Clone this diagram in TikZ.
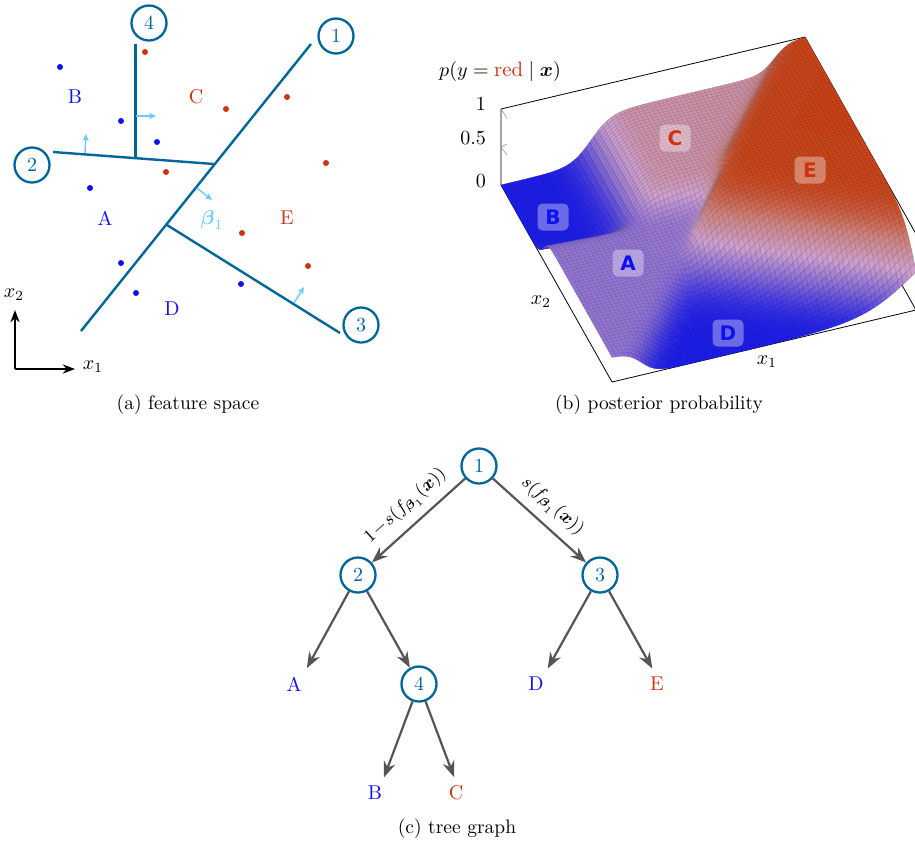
\documentclass[tikz,border=0pt]{standalone}
\usepackage{amsmath}
\usepackage{fontspec}
\usetikzlibrary{arrows.meta}
\newfontfamily\labelfont{DejaVu Sans}
\definecolor{teal}{HTML}{006699}
\definecolor{sky}{HTML}{66CCFF}
\definecolor{blue}{HTML}{1010F0}
\definecolor{red}{HTML}{CC3311}
\definecolor{gray}{HTML}{555555}
% colour ramp of the surface, cm0 (blue) to cm100 (red), ce = its mesh line
\definecolor{ramp0}{RGB}{28,28,235}
\definecolor{ramp1}{RGB}{125,100,215}
\definecolor{ramp2}{RGB}{205,160,205}
\definecolor{ramp3}{RGB}{205,130,125}
\definecolor{ramp4}{RGB}{202,66,22}
\foreach \k in {0,...,100}{
  \pgfmathtruncatemacro\seg{min(3,floor(\k/25))}
  \pgfmathtruncatemacro\nxt{\seg+1}
  \pgfmathtruncatemacro\mix{(\k-25*\seg)*4}
  \xglobal\colorlet{cm\k}{ramp\nxt!\mix!ramp\seg}
  \xglobal\colorlet{ce\k}{cm\k!82!black}
}
\newcommand\keep[2]{\expandafter\xdef\csname #1\endcsname{#2}}
\newcommand\grab[1]{\csname #1\endcsname}
\tikzset{
  every picture/.style={line join=round,>=Stealth},
  split/.style={circle,draw=teal,line width=1.15pt,text=teal,minimum size=17.5pt,inner sep=0pt},
  cut/.style={teal,line width=1.2pt},
  normal/.style={-{Stealth[length=3.6pt,width=3.2pt]},sky,line width=0.7pt},
  edge/.style={->,gray,line width=1.1pt},
  leaf/.style={outer sep=1pt},
  dotblue/.style={circle,fill=blue,inner sep=0pt,minimum size=3pt},
  dotred/.style={circle,fill=red,inner sep=0pt,minimum size=3pt},
  box/.style={line width=0.4pt},
  capt/.style={font=\fontsize{9.75}{12}\selectfont},
  tag/.style={rounded corners=2.5pt,fill=white,fill opacity=0.35,text opacity=1,minimum width=15.5pt,minimum height=13.5pt,inner sep=0pt,font=\labelfont\bfseries},
}
\begin{document}
\begin{tikzpicture}[x=0.5pt,y=-0.5pt,
  declare function={sg(\d)=1/(1+exp(-max(-9,min(9,\d))));}]
\useasboundingbox (0,0) rectangle (915,843);
% feature space
\node[split] (s4) at (149,23) {4};
\node[split] (s1) at (336,36) {1};
\node[split] (s2) at (32,165) {2};
\node[split] (s3) at (361,325) {3};
\coordinate (c1a) at (81,331);
\coordinate (c1b) at (311,44);
\coordinate (c2a) at (53,152);
\coordinate (c2b) at (214,164);
\coordinate (c3a) at (167,225);
\coordinate (c3b) at (340,333);
\coordinate (c4a) at (135.5,44);
\coordinate (c4b) at (135.5,157.5);
\draw[cut] (c1a)--(c1b);
\draw[cut] (c2a)--(c2b);
\draw[cut] (c3a)--(c3b);
\draw[cut] (c4a)--(c4b);
\draw[normal] (197,188)--(212,200);
\draw[normal] (85,153)--(86,134);
\draw[normal] (294,303)--(304,287);
\draw[normal] (136,116)--(156,116);
\node[text=sky] (beta) at (212,220) {$\boldsymbol{\beta}_1$};
\foreach \px/\py in {60/67,121/121,157/142,90/188,121/263,136/293,241/284}
  \node[dotblue] at (\px,\py) {};
\foreach \px/\py in {145/52,226/109,287/97,326/163,166/172,242/233,308/266}
  \node[dotred] at (\px,\py) {};
\node[text=blue] (ra) at (105,218) {A};
\node[text=blue] (rb) at (75,97) {B};
\node[text=red] (rc) at (196,97) {C};
\node[text=blue] (rd) at (172,309) {D};
\node[text=red] (re) at (287,218) {E};
\coordinate (o) at (15,369);
\coordinate (ox) at (75,369);
\coordinate (oy) at (15,310);
\draw[->,line width=0.7pt] (o)--(ox);
\draw[->,line width=0.7pt] (o)--(oy);
\node (xa) at (93,367) {$x_1$};
\node (xb) at (14,295) {$x_2$};
\node[capt] (capa) at (188,405) {(a) feature space};
% posterior surface
\draw[box] (501,185)--(501,109)--(805,37)--(916,234);
\draw[box] (501,185)--(612,382)--(916,310)--(805,113);
\draw[gray!70,line width=0.25pt] (507,144)--(501,147)--(507,155);
\draw[gray!70,line width=0.25pt] (507,118)--(501,109);
\foreach \i in {72,71,...,0}{
  \pgfmathsetmacro\ux{\i/72}
  \pgfmathsetmacro\fx{46+302*\ux}
  \pgfmathsetmacro\sfor{sg(0.1*(\fx-135.5))}
  \foreach \j in {72,71,...,0}{
    \pgfmathsetmacro\vy{\j/72}
    \pgfmathsetmacro\fy{338-302*\vy}
    \pgfmathsetmacro\sone{sg(0.18*(0.78*(\fx-81)+0.625*(\fy-331)))}
    \pgfmathsetmacro\stwo{sg(0.16*(0.074*(\fx-53)-0.997*(\fy-152)))}
    \pgfmathsetmacro\sthr{sg(0.075*(0.53*(\fx-167)-0.848*(\fy-225)))}
    \pgfmathsetmacro\zv{\sone*\sthr+(1-\sone)*(\stwo*\sfor*0.62+(1-\stwo)*0.33)}
    \pgfmathsetmacro\xv{612+304*\ux-111*\vy}
    \pgfmathsetmacro\yv{382-72*\ux-197*\vy-76*\zv}
    \ifnum\i<72 \ifnum\j<72
      \pgfmathtruncatemacro\k{(\zv+\grab{zz\j}+\oldz+\grab{zz\the\numexpr\j+1\relax})*25}
      \filldraw[fill=cm\k,draw=ce\k,line width=0.18pt]
        (\xv,\yv)--(\grab{xx\j},\grab{yy\j})--(\oldx,\oldy)
        --(\grab{xx\the\numexpr\j+1\relax},\grab{yy\the\numexpr\j+1\relax})--cycle;
    \fi\fi
    \ifnum\i<72
      \xdef\oldx{\grab{xx\j}}\xdef\oldy{\grab{yy\j}}\xdef\oldz{\grab{zz\j}}
    \fi
    \keep{xx\j}{\xv}\keep{yy\j}{\yv}\keep{zz\j}{\zv}
  }
}
\node[tag,text=blue] (tb) at (553,217) {B};
\node[tag,text=blue] (ta) at (628,263) {A};
\node[tag,text=blue] (td) at (728,333) {D};
\node[tag,text=red] (tc) at (675,138) {C};
\node[tag,text=red] (te) at (810,170) {E};
\node[font=\fontsize{10.4}{12}\selectfont] (zt) at (500,71) {$p(y=\textcolor{red}{\text{red}}\mid\boldsymbol{x})$};
\node[anchor=east] (z1) at (493,104) {$1$};
\node[anchor=east] (z2) at (493,138) {$0.5$};
\node[anchor=east] (z0) at (493,181) {$0$};
\node (xc) at (541,302) {$x_2$};
\node (xd) at (767,362) {$x_1$};
\node[capt] (capb) at (659,405) {(b) posterior probability};
% tree graph
\node[split] (t1) at (479,466) {1};
\node[split] (t2) at (358,575) {2};
\node[split] (t3) at (600,575) {3};
\node[split] (t4) at (419,684) {4};
\node[leaf,text=blue] (la) at (294,684) {A};
\node[leaf,text=blue] (ld) at (536,684) {D};
\node[leaf,text=red] (le) at (657,684) {E};
\node[leaf,text=blue] (lb) at (375,793) {B};
\node[leaf,text=red] (lc) at (456,793) {C};
\draw[edge] (t1)--node[black,sloped,above=1pt,font=\small]{$1\!-\!s(f_{\boldsymbol{\beta}_1}(\boldsymbol{x}))$}(t2);
\draw[edge] (t1)--node[black,sloped,above=1pt,font=\small]{$s(f_{\boldsymbol{\beta}_1}(\boldsymbol{x}))$}(t3);
\draw[edge] (t2)--(la.51);
\draw[edge] (t2)--(t4);
\draw[edge] (t3)--(ld.53);
\draw[edge] (t3)--(le.107);
\draw[edge] (t4)--(lb.60);
\draw[edge] (t4)--(lc.97);
\node[capt] (capc) at (457,829) {(c) tree graph};
\end{tikzpicture}
\end{document}
